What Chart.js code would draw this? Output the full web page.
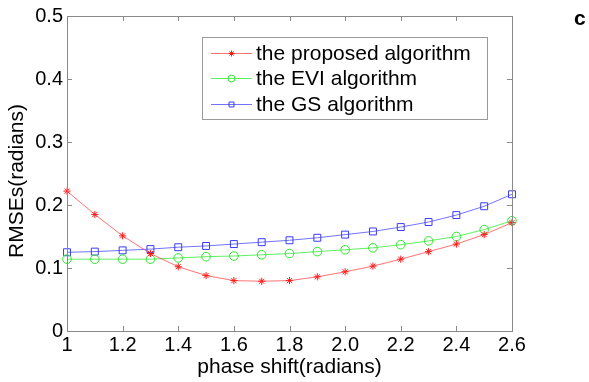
<!DOCTYPE html>
<html>
<head>
<meta charset="utf-8">
<script src="https://cdn.jsdelivr.net/npm/chart.js@4/dist/chart.umd.min.js"></script>
<style>
    html, body { margin: 0; padding: 0; background: #fff; }
    #wrap { width: 589px; height: 382px; position: relative; }
</style>
</head>
<body>
<div id="wrap"><canvas id="rmseChart" width="589" height="382"></canvas></div>
<script>
(function () {
    'use strict';

    // phase shift values (radians)
    const phaseShift = [1.0, 1.1, 1.2, 1.3, 1.4, 1.5, 1.6, 1.7, 1.8, 1.9, 2.0, 2.1, 2.2, 2.3, 2.4, 2.5, 2.6];

    // RMSE of each algorithm (radians)
    const proposedRmse = [0.222, 0.185, 0.151, 0.123, 0.102, 0.088, 0.080, 0.079, 0.080, 0.086, 0.094, 0.103, 0.114, 0.126, 0.138, 0.153, 0.172];
    const eviRmse = [0.114, 0.114, 0.114, 0.114, 0.116, 0.118, 0.119, 0.121, 0.123, 0.126, 0.129, 0.132, 0.137, 0.143, 0.150, 0.161, 0.175];
    const gsRmse = [0.125, 0.126, 0.128, 0.130, 0.133, 0.135, 0.138, 0.141, 0.144, 0.148, 0.153, 0.158, 0.165, 0.173, 0.184, 0.198, 0.217];

    const seriesNames = ['the proposed algorithm', 'the EVI algorithm', 'the GS algorithm'];

    const xTickLabels = ['1', '1.2', '1.4', '1.6', '1.8', '2.0', '2.2', '2.4', '2.6'];
    const yTickLabels = ['0', '0.1', '0.2', '0.3', '0.4', '0.5'];

    const FONT = 'Liberation Sans, Arial, sans-serif';
    const AXIS_GRAY = '#8a8a8a';

    function toPoints(values) {
        return values.map(function (v, i) { return { x: phaseShift[i], y: v }; });
    }

    function makeSeries(label, values, lineColor, markColor, style, radius) {
        return {
            label: label,
            data: toPoints(values),
            borderColor: lineColor,
            borderWidth: 1,
            backgroundColor: 'rgba(0,0,0,0)',
            pointStyle: style,
            pointRadius: radius,
            pointBorderColor: markColor,
            pointBackgroundColor: 'rgba(0,0,0,0)',
            pointBorderWidth: 1,
            tension: 0,
            clip: false
        };
    }

    // box, inward ticks, y label, panel letter and legend
    const decorations = {
        id: 'decorations',
        afterDraw: function (chart) {
            const ctx = chart.ctx;
            const area = chart.chartArea;
            const xs = chart.scales.x;
            const ys = chart.scales.y;
            const tick = 5;

            ctx.save();
            ctx.strokeStyle = AXIS_GRAY;
            ctx.lineWidth = 1;
            ctx.strokeRect(Math.round(area.left) + 0.5, Math.round(area.top) + 0.5,
                Math.round(area.right - area.left), Math.round(area.bottom - area.top));

            ctx.beginPath();
            xs.ticks.forEach(function (t) {
                const px = Math.round(xs.getPixelForValue(t.value)) + 0.5;
                ctx.moveTo(px, area.bottom); ctx.lineTo(px, area.bottom - tick);
                ctx.moveTo(px, area.top); ctx.lineTo(px, area.top + tick);
            });
            ys.ticks.forEach(function (t) {
                const py = Math.round(ys.getPixelForValue(t.value)) + 0.5;
                ctx.moveTo(area.left, py); ctx.lineTo(area.left + tick, py);
                ctx.moveTo(area.right, py); ctx.lineTo(area.right - tick, py);
            });
            ctx.stroke();

            // y axis title
            ctx.fillStyle = '#000';
            ctx.font = '21px ' + FONT;
            ctx.textAlign = 'center';
            ctx.textBaseline = 'middle';
            ctx.translate(17, 181);
            ctx.rotate(-Math.PI / 2);
            ctx.fillText('RMSEs(radians)', 0, 0);
            ctx.restore();

            // panel letter
            ctx.save();
            ctx.fillStyle = '#000';
            ctx.font = 'bold 21px ' + FONT;
            ctx.textAlign = 'left';
            ctx.textBaseline = 'alphabetic';
            ctx.fillText('c', 574, 25);
            ctx.restore();

            drawLegend(chart);
        }
    };

    function drawLegend(chart) {
        const ctx = chart.ctx;
        const box = { x: 202, y: 37, w: 285, h: 82 };
        const rowY = [53, 78, 104];

        ctx.save();
        ctx.fillStyle = '#fff';
        ctx.fillRect(box.x, box.y, box.w, box.h);
        ctx.strokeStyle = '#9a9a9a';
        ctx.lineWidth = 1;
        ctx.strokeRect(box.x + 0.5, box.y + 0.5, box.w, box.h);

        chart.data.datasets.forEach(function (ds, i) {
            const y = rowY[i] + 0.5;
            ctx.strokeStyle = ds.borderColor;
            ctx.lineWidth = 1;
            ctx.beginPath();
            ctx.moveTo(211, y);
            ctx.lineTo(252, y);
            ctx.stroke();

            ctx.strokeStyle = ds.pointBorderColor;
            ctx.fillStyle = 'rgba(0,0,0,0)';
            Chart.helpers.drawPoint(ctx, {
                pointStyle: ds.pointStyle,
                radius: ds.pointStyle === 'star' ? 3 : 3.5,
                borderWidth: 1,
                rotation: 0
            }, 231.5, y);

            ctx.fillStyle = '#000';
            ctx.font = '21px ' + FONT;
            ctx.textAlign = 'left';
            ctx.textBaseline = 'middle';
            ctx.fillText(ds.label, 256, rowY[i] + 1);
        });
        ctx.restore();
    }

    const config = {
        type: 'line',
        data: {
            datasets: [
                makeSeries(seriesNames[0], proposedRmse, 'rgba(255, 40, 40, 0.65)', '#ff1a1a', 'star', 3.6),
                makeSeries(seriesNames[1], eviRmse, 'rgba(40, 235, 40, 0.75)', '#2ee62e', 'circle', 4.3),
                makeSeries(seriesNames[2], gsRmse, 'rgba(40, 40, 255, 0.65)', '#3a3aff', 'rect', 4.9)
            ]
        },
        options: {
            responsive: false,
            animation: false,
            layout: { padding: { top: 11, right: 77, left: 0, bottom: 0 } },
            plugins: {
                legend: { display: false },
                tooltip: { enabled: false }
            },
            scales: {
                x: {
                    type: 'linear',
                    min: 1,
                    max: 2.6,
                    grid: { display: false, drawTicks: false },
                    border: { display: false },
                    ticks: {
                        stepSize: 0.2,
                        maxRotation: 0,
                        padding: 2,
                        color: '#000',
                        font: { family: FONT, size: 20 },
                        callback: function (v, i) { return xTickLabels[i]; }
                    },
                    title: {
                        display: true,
                        text: 'phase shift(radians)',
                        color: '#000',
                        font: { family: FONT, size: 21 },
                        padding: { top: 0, bottom: 2 }
                    },
                    afterFit: function (scale) { scale.height = 51; }
                },
                y: {
                    type: 'linear',
                    min: 0,
                    max: 0.5,
                    grid: { display: false, drawTicks: false },
                    border: { display: false },
                    ticks: {
                        stepSize: 0.1,
                        padding: 4,
                        color: '#000',
                        font: { family: FONT, size: 20 },
                        callback: function (v, i) { return yTickLabels[i]; }
                    },
                    afterFit: function (scale) { scale.width = 67; }
                }
            }
        },
        plugins: [decorations]
    };

    new Chart(document.getElementById('rmseChart'), config);
})();
</script>
</body>
</html>
